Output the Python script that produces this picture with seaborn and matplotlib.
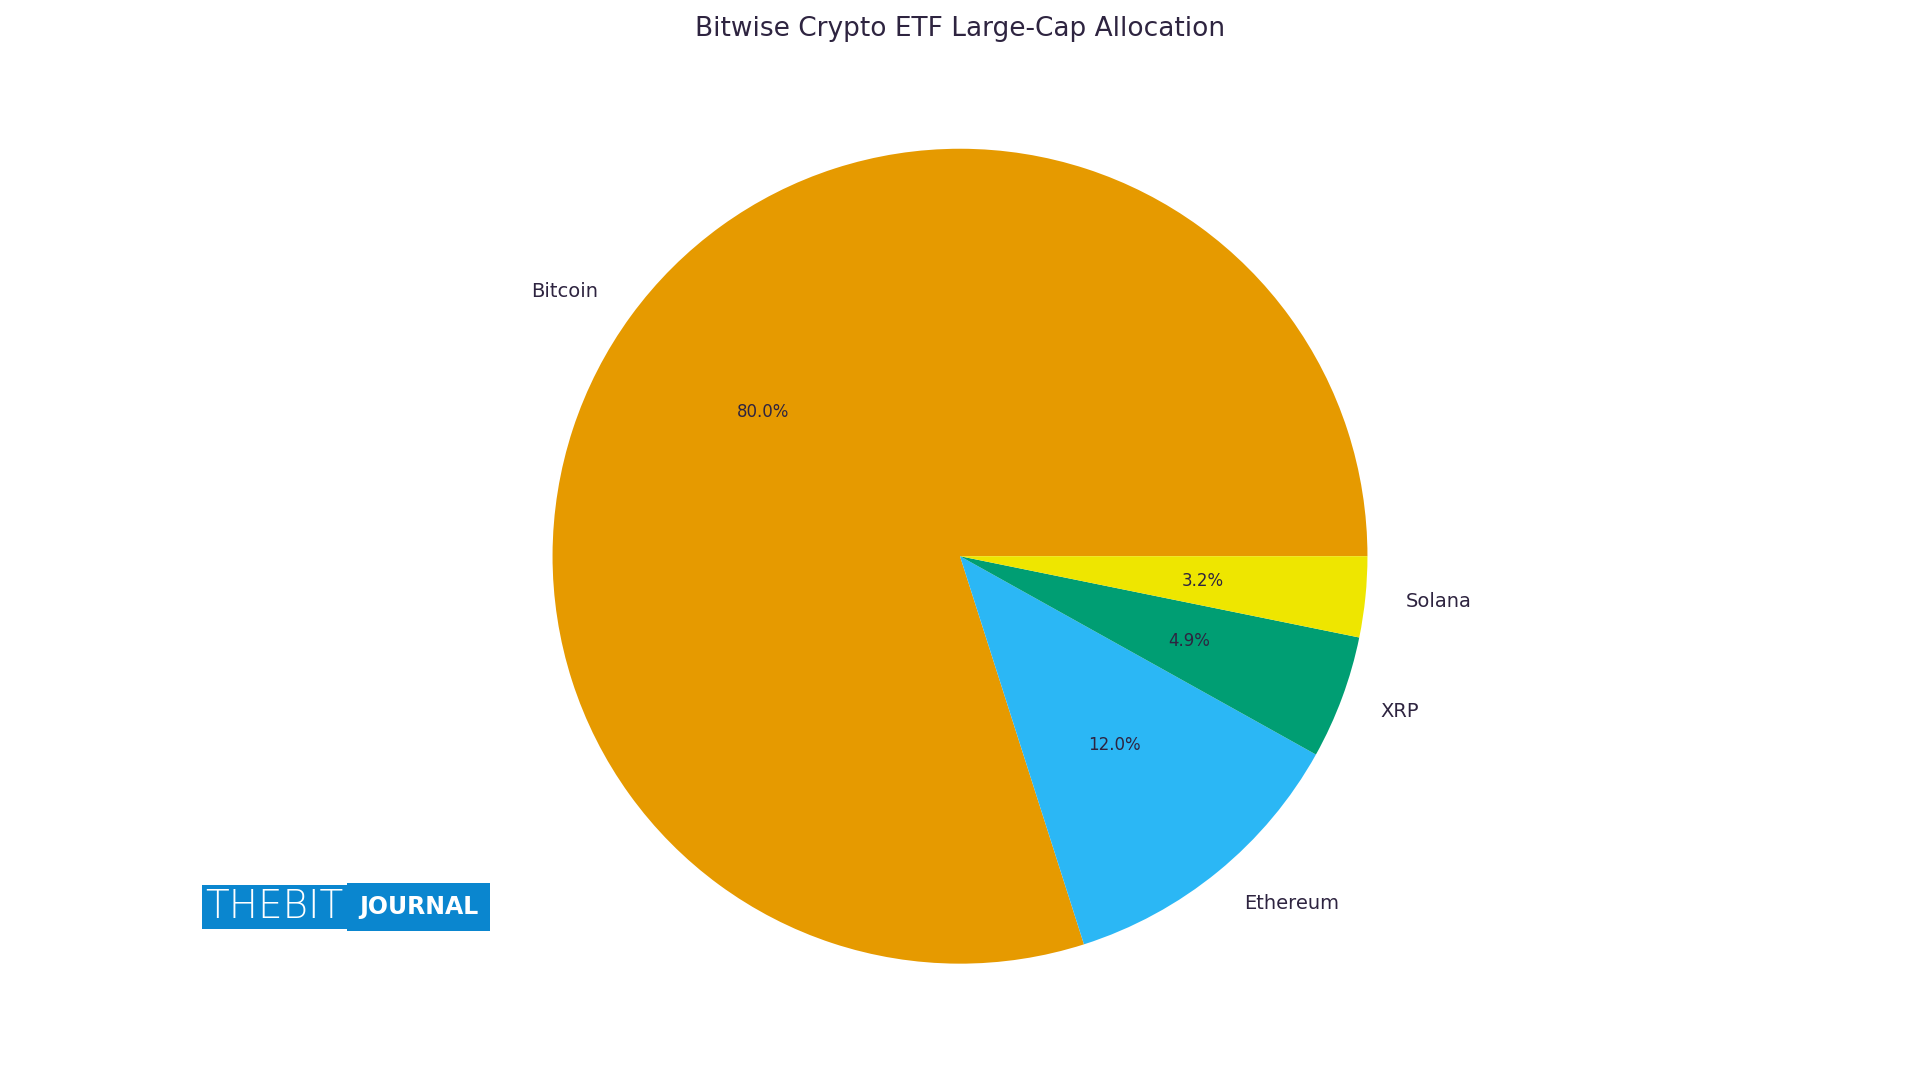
import seaborn as sns
from matplotlib import pyplot as plt

# Allocation shares (%)
assets = ['Bitcoin', 'Ethereum', 'XRP', 'Solana']
weights = [80.0, 12.0, 4.9, 3.2]
colors = ['#E69A00', '#2BB7F5', '#009E73', '#EEE600']

sns.set_style("white")
plt.rcParams['font.family'] = ['DejaVu Sans']
text_color = '#2E2440'

fig = plt.figure(figsize=(19.2, 10.8), dpi=100)
ax = fig.add_axes([0.2, 0.07, 0.6, 0.83])

total = sum(weights)
wedges, texts, autotexts = ax.pie(
    weights, labels=assets, colors=colors, startangle=0,
    autopct=lambda p: f"{p * total / 100:.1f}%",
    labeldistance=1.1, pctdistance=0.6,
    wedgeprops={'linewidth': 0},
    textprops={'fontsize': 14, 'color': text_color})
for t in autotexts:
    t.set_fontsize(12)
ax.axis('equal')

fig.suptitle('Bitwise Crypto ETF Large-Cap Allocation', fontsize=19,
             color=text_color, y=0.985)

# Logo
fig.text(0.107, 0.16, 'THEBIT', fontsize=28, color='white', ha='left', va='center',
         fontweight='light',
         bbox=dict(boxstyle='square,pad=0.08', fc='#0A86CF', ec='none'))
fig.text(0.187, 0.16, 'JOURNAL', fontsize=17, color='white', ha='left', va='center',
         fontweight='bold',
         bbox=dict(boxstyle='square,pad=0.5', fc='#0A86CF', ec='none'))

plt.savefig('out.png')
